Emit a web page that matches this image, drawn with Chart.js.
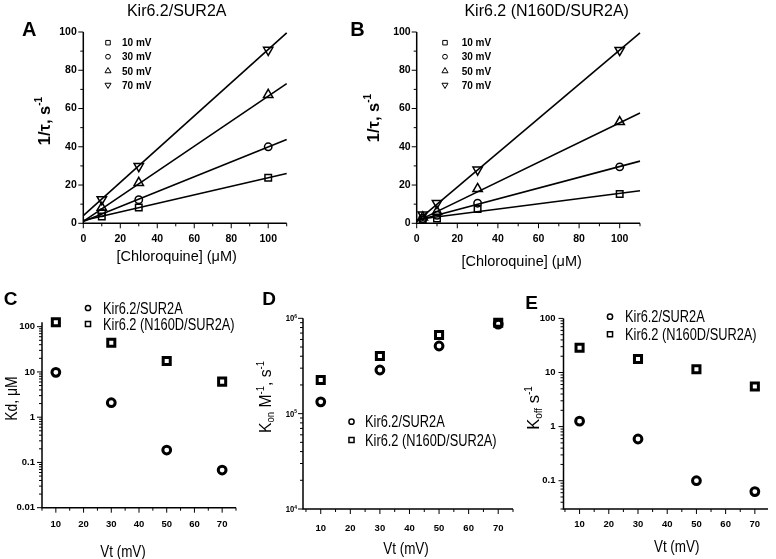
<!DOCTYPE html>
<html><head><meta charset="utf-8">
<script src="https://cdn.jsdelivr.net/npm/chart.js@4.4.0/dist/chart.umd.min.js"></script>
<style>
html,body{margin:0;padding:0;background:#fff;}
#wrap{position:relative;width:776px;height:559px;overflow:hidden;background:#fff;}
canvas{position:absolute;left:0;top:0;}
</style></head><body><div id="wrap">
<canvas id="cA" width="776" height="559"></canvas>
<canvas id="cB" width="776" height="559"></canvas>
<canvas id="cC" width="776" height="559"></canvas>
<canvas id="cD" width="776" height="559"></canvas>
<canvas id="cE" width="776" height="559"></canvas>
</div>
<script>
// ---------------- data ----------------
const concA = [10, 30, 100];
const tauA_10 = [3.6, 8.3, 23.8];
const tauA_30 = [5.5, 12.3, 40];
const tauA_50 = [8.2, 21.2, 67.2];
const tauA_70 = [12.5, 29.8, 90.6];
const fitX = [0, 110];
const fitA_10 = [1.5, 26];
const fitA_30 = [1, 43.8];
const fitA_50 = [1, 73];
const fitA_70 = [4, 99.5];

const concB = [3, 10, 30, 100];
const tauB_10 = [1.8, 2.5, 7.5, 15.3];
const tauB_30 = [2.5, 4.2, 10.5, 29.5];
const tauB_50 = [3.2, 6.2, 18, 53];
const tauB_70 = [4.5, 10.5, 28, 90.5];
const fitB_10 = [2, 17];
const fitB_30 = [1.5, 32.5];
const fitB_50 = [1, 57.7];
const fitB_70 = [1, 99.5];

const vt = [10, 30, 50, 70];
const kdWT = [9.8, 2.09, 0.188, 0.068];
const kdN160D = [125, 44.3, 17.5, 6.1];
const konWT = [1.33e5, 2.87e5, 5.12e5, 8.7e5];
const konN160D = [2.25e5, 4.02e5, 6.68e5, 9.0e5];
const koffWT = [1.26, 0.59, 0.1, 0.063];
const koffN160D = [28.6, 17.7, 11.5, 5.5];

const tauTicks = [0, 20, 40, 60, 80, 100];
const tauMinor = [10, 30, 50, 70, 90];
const concTicks = [0, 20, 40, 60, 80, 100];
const concMinor = [10, 30, 50, 70, 90, 110];
const vtTicks = [10, 20, 30, 40, 50, 60, 70];
const vtMinor = [5, 15, 25, 35, 45, 55, 65, 75];
const kdTicks = [0.01, 0.1, 1, 10, 100];
const kdLabels = ['0.01', '0.1', '1', '10', '100'];
const konTicks = [1e4, 1e5, 1e6];
const konExp = ['4', '5', '6'];
const koffTicks = [0.1, 1, 10, 100];
const koffLabels = ['0.1', '1', '10', '100'];
const mvLabels = ['10 mV', '30 mV', '50 mV', '70 mV'];
const seriesNames = ['Kir6.2/SUR2A', 'Kir6.2 (N160D/SUR2A)'];

// ---------------- helpers ----------------
const FAM = "'Liberation Sans', Arial, Helvetica, sans-serif";
Chart.defaults.font.family = FAM;
Chart.defaults.color = '#000';

function fontAvailable(name) {
  const c = document.createElement('canvas').getContext('2d');
  const s = 'Kir6.2 (N160D/SUR2A) 0123456789';
  c.font = '20px monospace'; const a = c.measureText(s).width;
  c.font = "20px '" + name + "', monospace"; const b = c.measureText(s).width;
  return Math.abs(a - b) > 0.5;
}
const hasNarrow = fontAvailable('Liberation Sans Narrow');
const smallTickFont = hasNarrow
  ? {family: "'Liberation Sans Narrow', " + FAM, size: 10.5, weight: 'bold'}
  : {family: FAM, size: 9.5, weight: 'bold'};
const topTickFont = {family: FAM, size: 10.5, weight: 'bold'};

function drawRuns(ctx, runs, x, y, opt) {
  opt = opt || {};
  ctx.save();
  ctx.translate(x, y);
  if (opt.rot) ctx.rotate(opt.rot);
  ctx.scale(opt.sx || 1, 1);
  let total = 0;
  runs.forEach(r => {
    ctx.font = (r.bold ? 'bold ' : '') + r.size + 'px ' + FAM;
    r._w = ctx.measureText(r.t).width; total += r._w;
  });
  let cx = opt.align === 'left' ? 0 : (opt.align === 'right' ? -total : -total / 2);
  const base = 0.36 * runs[0].size;
  ctx.textAlign = 'left'; ctx.textBaseline = 'alphabetic';
  ctx.fillStyle = '#000';
  runs.forEach(r => {
    ctx.font = (r.bold ? 'bold ' : '') + r.size + 'px ' + FAM;
    ctx.fillText(r.t, cx, base + (r.dy || 0));
    cx += r._w;
  });
  ctx.restore();
}

function drawMarker(ctx, style, x, y, r, bw) {
  ctx.beginPath(); ctx.lineWidth = bw; ctx.strokeStyle = '#000';
  if (style === 'rect') {
    const s = r * Math.SQRT1_2; ctx.rect(x - s, y - s, 2 * s, 2 * s);
  } else if (style === 'circle') {
    ctx.arc(x, y, r, 0, Math.PI * 2);
  } else {
    const rot = style === 'triangle' ? 0 : Math.PI;
    for (let k = 0; k < 3; k++) {
      const a = rot + k * 2 * Math.PI / 3;
      const px = x + Math.sin(a) * r, py = y - Math.cos(a) * r;
      if (k === 0) ctx.moveTo(px, py); else ctx.lineTo(px, py);
    }
    ctx.closePath();
  }
  ctx.stroke();
}

function logMinor(min, max) {
  const out = [];
  for (let e = Math.floor(Math.log10(min)) - 1; e <= Math.ceil(Math.log10(max)); e++) {
    for (let m = 2; m <= 9; m++) {
      const v = m * Math.pow(10, e);
      if (v >= min * 0.9999 && v <= max * 1.0001) out.push(v);
    }
  }
  return out;
}

const decorCfg = {};
const decorPlugin = {
  id: 'decor',
  afterDraw(chart) {
    const cfg = decorCfg[chart.canvas.id]; if (!cfg) return;
    const ctx = chart.ctx, ca = chart.chartArea, xs = chart.scales.x, ys = chart.scales.y;
    ctx.save();
    ctx.strokeStyle = '#000'; ctx.fillStyle = '#000';
    ctx.lineWidth = cfg.axisW || 1.5;
    ctx.beginPath();
    ctx.moveTo(ca.left, ca.top); ctx.lineTo(ca.left, ca.bottom); ctx.lineTo(ca.right, ca.bottom);
    ctx.stroke();
    ctx.lineWidth = 1;
    const inR = (s, v) => v >= s.min - 1e-9 && v <= s.max * 1.0001 + 1e-9;
    const tx = (vals, len) => (vals || []).filter(v => inR(xs, v)).forEach(v => {
      const p = xs.getPixelForValue(v);
      ctx.beginPath(); ctx.moveTo(p, ca.bottom); ctx.lineTo(p, ca.bottom + len); ctx.stroke();
    });
    const ty = (vals, len) => (vals || []).filter(v => inR(ys, v)).forEach(v => {
      const p = ys.getPixelForValue(v);
      ctx.beginPath(); ctx.moveTo(ca.left, p); ctx.lineTo(ca.left - len, p); ctx.stroke();
    });
    tx(cfg.xMajor, 5); tx(cfg.xMinor, 3);
    ty(cfg.yMajor, 5); ty(cfg.yMinor, 3);
    (cfg.texts || []).forEach(t => drawRuns(ctx, t.runs, t.x, t.y, t));
    (cfg.legend || []).forEach(l => {
      drawMarker(ctx, l.style, l.mx, l.y, l.r, l.bw);
      drawRuns(ctx, [{t: l.label, size: l.size, bold: l.bold}], l.tx, l.y, {align: 'left', sx: l.sx});
    });
    if (cfg.extra) cfg.extra(chart, ctx);
    ctx.restore();
  }
};

const pts = (xs, ys) => xs.map((x, i) => ({x: x, y: ys[i]}));

function markerSet(xs, ys, style, r, bw, rot) {
  return {data: pts(xs, ys), showLine: false, pointStyle: style, pointRadius: r,
    pointBorderWidth: bw, pointRotation: rot || 0, pointBorderColor: '#000',
    pointBackgroundColor: 'rgba(0,0,0,0)', clip: false};
}
function lineSet(xs, ys) {
  return {data: pts(xs, ys), showLine: true, borderColor: '#000', borderWidth: 1.6,
    pointRadius: 0, fill: false, clip: false};
}

function axisCfg(ax, horizontal, box) {
  const c = {
    type: ax.type || 'linear', min: ax.min, max: ax.max,
    position: horizontal ? 'bottom' : 'left',
    grid: {display: false, drawTicks: false}, border: {display: false},
    ticks: {autoSkip: false, maxRotation: 0, minRotation: 0, padding: ax.pad, font: ax.font, color: '#000'},
    afterBuildTicks: s => { s.ticks = ax.ticks.map(v => ({value: v})); },
    afterFit: s => {
      if (horizontal) s.height = box; else s.width = box;
      s.paddingLeft = 0; s.paddingRight = 0; s.paddingTop = 0; s.paddingBottom = 0;
    }
  };
  if (ax.labels) c.ticks.callback = (v, i) => ax.labels[i];
  return c;
}

function build(id, area, xAx, yAx, datasets, decor) {
  decorCfg[id] = decor;
  const yBox = Math.min(40, Math.floor(area.l));
  const xBox = 30;
  return new Chart(document.getElementById(id), {
    type: 'scatter',
    data: {datasets: datasets},
    options: {
      responsive: false, animation: false, events: [], devicePixelRatio: 1,
      layout: {padding: {left: area.l - yBox, top: area.t, right: 776 - area.r, bottom: 559 - area.b - xBox}},
      plugins: {legend: {display: false}, tooltip: {enabled: false}, title: {display: false}},
      scales: {x: axisCfg(xAx, true, xBox), y: axisCfg(yAx, false, yBox)}
    },
    plugins: [decorPlugin]
  });
}

const topLegend = (mx, tx) => ['rect', 'circle', 'triangle', 'triangleDown'].map((s, i) => ({
  style: s, mx: mx, tx: tx, y: [42.7, 56.7, 71, 85][i],
  r: s === 'rect' ? 3.2 : (s === 'circle' ? 2.4 : 3.5), bw: 1,
  label: mvLabels[i], size: 10, bold: true
}));
const yTauTitle = (x, y) => ({runs: [{t: '1/\u03c4, s', size: 16.5, bold: true}, {t: '-1', size: 10, bold: true, dy: -7.5}],
  x: x, y: y, rot: -Math.PI / 2});

// ---------------- Panel A ----------------
build('cA', {l: 83.3, t: 32, r: 286.7, b: 223.3},
  {min: 0, max: 110, ticks: concTicks, pad: 9.5, font: topTickFont},
  {min: 0, max: 100, ticks: tauTicks, pad: 6.5, font: topTickFont},
  [
    markerSet(concA, tauA_10, 'rect', 4.6, 1.5),
    markerSet(concA, tauA_30, 'circle', 3.7, 1.5),
    markerSet(concA, tauA_50, 'triangle', 5.4, 1.5),
    markerSet(concA, tauA_70, 'triangle', 5.4, 1.5, 180),
    lineSet(fitX, fitA_10), lineSet(fitX, fitA_30), lineSet(fitX, fitA_50), lineSet(fitX, fitA_70)
  ],
  {
    xMajor: concTicks, xMinor: concMinor, yMajor: tauTicks, yMinor: tauMinor, axisW: 1.5,
    legend: topLegend(108, 122),
    texts: [
      {runs: [{t: 'A', size: 20, bold: true}], x: 29.2, y: 28.3},
      {runs: [{t: 'Kir6.2/SUR2A', size: 16}], x: 176.7, y: 10.5},
      {runs: [{t: '[Chloroquine] (\u03bcM)', size: 14.5}], x: 176.7, y: 255.7},
      yTauTitle(44, 121)
    ]
  });

// ---------------- Panel B ----------------
build('cB', {l: 416.7, t: 32, r: 640, b: 223.3},
  {min: 0, max: 110, ticks: concTicks, pad: 9.5, font: topTickFont},
  {min: 0, max: 100, ticks: tauTicks, pad: 6, font: topTickFont},
  [
    markerSet(concB, tauB_10, 'rect', 4.6, 1.5),
    markerSet(concB, tauB_30, 'circle', 3.7, 1.5),
    markerSet(concB, tauB_50, 'triangle', 5.4, 1.5),
    markerSet(concB, tauB_70, 'triangle', 5.4, 1.5, 180),
    lineSet(fitX, fitB_10), lineSet(fitX, fitB_30), lineSet(fitX, fitB_50), lineSet(fitX, fitB_70)
  ],
  {
    xMajor: concTicks, xMinor: concMinor, yMajor: tauTicks, yMinor: tauMinor, axisW: 1.5,
    legend: topLegend(445, 461.7),
    texts: [
      {runs: [{t: 'B', size: 20, bold: true}], x: 357.5, y: 28.3},
      {runs: [{t: 'Kir6.2 (N160D/SUR2A)', size: 16}], x: 546.7, y: 10.5},
      {runs: [{t: '[Chloroquine] (\u03bcM)', size: 14.5}], x: 521.7, y: 261},
      yTauTitle(373, 118)
    ]
  });

const bottomLegend = (mx, tx, y1, y2) => [
  {style: 'circle', mx: mx, tx: tx, y: y1, r: 2.6, bw: 1.5, label: seriesNames[0], size: 16, sx: 0.8},
  {style: 'rect', mx: mx, tx: tx, y: y2, r: 3.6, bw: 1.5, label: seriesNames[1], size: 16, sx: 0.8}
];
const vtTitle = (x, y) => ({runs: [{t: 'Vt (mV)', size: 16}], x: x, y: y, sx: 0.84});

// ---------------- Panel C ----------------
build('cC', {l: 42, t: 322.3, r: 236, b: 507.7},
  {min: 5, max: 75, ticks: vtTicks, pad: 11, font: smallTickFont},
  {type: 'logarithmic', min: 0.01, max: 125, ticks: kdTicks, labels: kdLabels, pad: 7, font: smallTickFont},
  [
    markerSet(vt, kdN160D, 'rect', 5, 3),
    markerSet(vt, kdWT, 'circle', 3.9, 3)
  ],
  {
    xMajor: vtTicks, xMinor: vtMinor, yMajor: kdTicks, yMinor: logMinor(0.01, 125), axisW: 1.5,
    legend: bottomLegend(88, 103, 308, 324),
    texts: [
      {runs: [{t: 'C', size: 19, bold: true}], x: 10.5, y: 298.4},
      {runs: [{t: 'Kd, \u03bcM', size: 17}, ], x: 10.5, y: 398.5, rot: -Math.PI / 2, sx: 0.82},
      vtTitle(123, 551)
    ]
  });

// ---------------- Panel D ----------------
build('cD', {l: 303, t: 318.3, r: 513, b: 509},
  {min: 4, max: 75, ticks: vtTicks, pad: 13.5, font: smallTickFont},
  {type: 'logarithmic', min: 1e4, max: 1e6, ticks: konTicks, labels: ['', '', ''], pad: 6, font: smallTickFont},
  [
    markerSet(vt, konN160D, 'rect', 5, 3),
    markerSet(vt, konWT, 'circle', 3.9, 3)
  ],
  {
    xMajor: vtTicks, xMinor: vtMinor, yMajor: konTicks, yMinor: logMinor(1e4, 1e6), axisW: 1.5,
    legend: bottomLegend(351.5, 365, 421.7, 440),
    texts: [
      {runs: [{t: 'D', size: 19, bold: true}], x: 269, y: 298.3},
      {runs: [{t: 'K', size: 16.5}, {t: 'on', size: 10, dy: 3}, {t: ' M', size: 16.5}, {t: '-1', size: 10, dy: -7},
              {t: ', s', size: 16.5}, {t: '-1', size: 10, dy: -7}], x: 265, y: 397, rot: -Math.PI / 2, sx: 0.95},
      vtTitle(406, 548)
    ],
    extra: (chart, ctx) => {
      const ys = chart.scales.y;
      konTicks.forEach((v, i) => {
        drawRuns(ctx, [{t: '10', size: 8.5, bold: true}, {t: konExp[i], size: 5.5, bold: true, dy: -3.5}],
          297, ys.getPixelForValue(v), {align: 'right', sx: 0.9});
      });
    }
  });

// ---------------- Panel E ----------------
build('cE', {l: 563.5, t: 318.4, r: 773.5, b: 509},
  {min: 4.5, max: 74.5, ticks: vtTicks, pad: 10, font: smallTickFont},
  {type: 'logarithmic', min: 0.03, max: 100, ticks: koffTicks, labels: koffLabels, pad: 8, font: smallTickFont},
  [
    markerSet(vt, koffN160D, 'rect', 5, 3),
    markerSet(vt, koffWT, 'circle', 3.9, 3)
  ],
  {
    xMajor: vtTicks, xMinor: vtMinor, yMajor: koffTicks, yMinor: logMinor(0.03, 100), axisW: 1.5,
    legend: bottomLegend(610, 625, 316.7, 334.3),
    texts: [
      {runs: [{t: 'E', size: 19, bold: true}], x: 531.7, y: 301.7},
      {runs: [{t: 'K', size: 16.5}, {t: 'off', size: 10, dy: 3}, {t: ' s', size: 16.5}, {t: '-1', size: 10, dy: -7}],
        x: 533, y: 408, rot: -Math.PI / 2},
      vtTitle(676.7, 546.7)
    ]
  });
</script>
</body></html>
